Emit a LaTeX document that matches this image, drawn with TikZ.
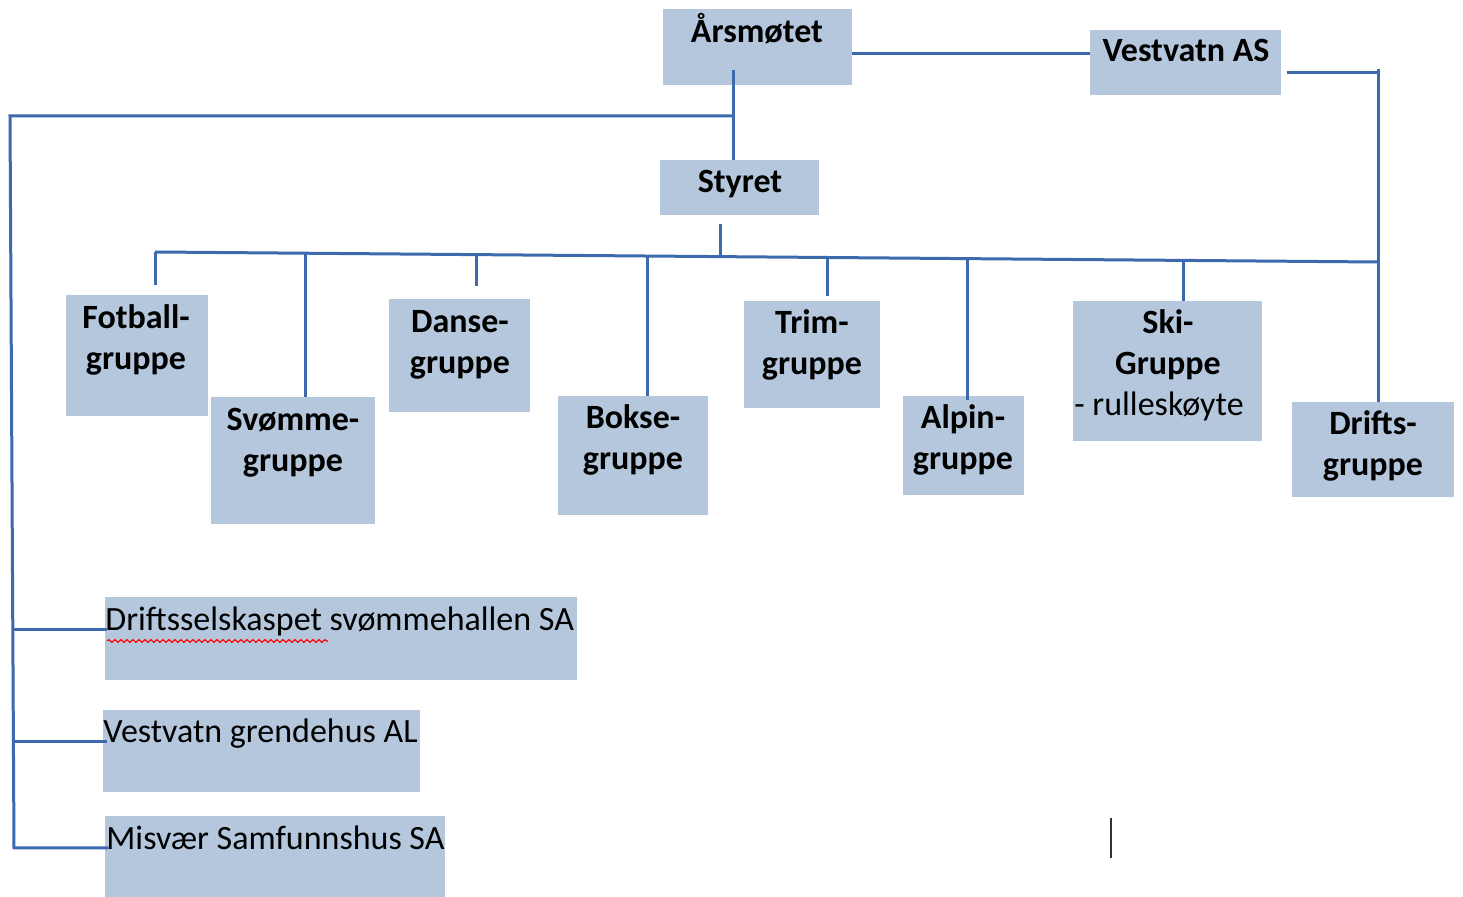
\documentclass[tikz,border=0pt]{standalone}
\usepackage{fontspec}
\setmainfont{Carlito}
\usetikzlibrary{fit,decorations.pathmorphing}
\definecolor{boxfill}{HTML}{B4C7DC}
\definecolor{linec}{HTML}{3C6AAC}
\tikzset{
  box/.style={fill=boxfill, draw=none, inner sep=0pt},
  lbl/.style={font=\fontsize{17}{20.5}\selectfont\bfseries, align=center, inner sep=0pt, anchor=base},
  plain/.style={font=\fontsize{17}{20.5}\selectfont, inner sep=0pt, anchor=base west},
  conn/.style={draw=linec, line width=1.5pt}
}
\begin{document}
\begin{tikzpicture}[x=0.5pt,y=-0.5pt]
\useasboundingbox (0,0) rectangle (1463,897);
% boxes
\node[box, fit={(663,9)(852,85)}] (ars) {};
\node[box, fit={(1090,30)(1281,95)}] (vas) {};
\node[box, fit={(660,160)(819,215)}] (sty) {};
\node[box, fit={(66,295)(208,416)}] (fot) {};
\node[box, fit={(211,397)(375,524)}] (svo) {};
\node[box, fit={(389,299)(530,412)}] (dan) {};
\node[box, fit={(558,396)(708,515)}] (bok) {};
\node[box, fit={(744,301)(880,408)}] (tri) {};
\node[box, fit={(903,396)(1024,495)}] (alp) {};
\node[box, fit={(1073,301)(1262,441)}] (ski) {};
\node[box, fit={(1292,402)(1454,497)}] (dri) {};
\node[box, fit={(105,597)(577,680)}] (dss) {};
\node[box, fit={(103,710)(420,792)}] (vga) {};
\node[box, fit={(105,816)(445,897)}] (mis) {};
% texts (anchor = baseline of the last line)
\node[lbl] (arsT) at (757,43) {Årsmøtet};
\node[lbl] (vasT) at (1186,62) {Vestvatn AS};
\node[lbl] (styT) at (740,193) {Styret};
\node[lbl] (fotT) at (136,370) {Fotball-\\gruppe};
\node[lbl] (svoT) at (293,472) {Svømme-\\gruppe};
\node[lbl] (danT) at (460,374) {Danse-\\gruppe};
\node[lbl] (bokT) at (633,470) {Bokse-\\gruppe};
\node[lbl] (triT) at (812,375) {Trim-\\gruppe};
\node[lbl] (alpT) at (963,470) {Alpin-\\gruppe};
\node[lbl] (skiT) at (1168,375) {Ski-\\Gruppe};
\node[plain] (skiR) at (1074,416) {- rulleskøyte};
\node[lbl] (driT) at (1373,476) {Drifts-\\gruppe};
\node[plain] (dssT) at (105,631) {Driftsselskaspet svømmehallen SA};
\node[plain] (vgaT) at (103,743) {Vestvatn grendehus AL};
\node[plain] (misT) at (106,849) {Misvær Samfunnshus SA};
% spelling underline
\draw[red, line width=0.6pt, decorate, decoration={snake, amplitude=0.7pt, segment length=3pt}] (107,641) -- (328,641);
% coordinates
\coordinate (ax) at (733,70);
\coordinate (lb1) at (733,116);
\coordinate (lt) at (10,116);
\coordinate (lbot) at (14,848);
\coordinate (l1) at (12.8,630);
\coordinate (l2) at (13.4,742);
\coordinate (busL) at (155,252);
\coordinate (busR) at (1378,262);
\coordinate (bSty) at (720,256.6);
\coordinate (bSvo) at (305,253.2);
\coordinate (bDan) at (476,254.6);
\coordinate (bBok) at (647,256.0);
\coordinate (bTri) at (827,257.5);
\coordinate (bAlp) at (967,258.6);
\coordinate (bSki) at (1183,260.4);
\coordinate (vr) at (1378,69);
% connectors
\draw[conn] (ars.east |- 0,54) -- (vas.west |- 0,54);
\draw[conn] ([xshift=3pt]vas.east |- 0,73) -- (1378,73);
\draw[conn] (vr) -- (dri.north -| vr);
\draw[conn] (ax) -- (sty.north -| ax);
\draw[conn] (lb1) -- (lt) -- (lbot) -- ([xshift=2pt]mis.west |- lbot);
\draw[conn] (l1) -- ([xshift=1pt]dss.west |- l1);
\draw[conn] (l2) -- ([xshift=2pt]vga.west |- l2);
\draw[conn] ([yshift=-4.5pt]sty.south -| bSty) -- (bSty);
\draw[conn] (busL) -- (busR);
\draw[conn] (busL) -- ([yshift=5pt]fot.north -| busL);
\draw[conn] (bSvo) -- (svo.north -| bSvo);
\draw[conn] (bDan) -- ([yshift=6.5pt]dan.north -| bDan);
\draw[conn] (bBok) -- (bok.north -| bBok);
\draw[conn] (bTri) -- ([yshift=2.5pt]tri.north -| bTri);
\draw[conn] (bAlp) -- ([yshift=-2pt]alp.north -| bAlp);
\draw[conn] (bSki) -- (ski.north -| bSki);
% text cursor
\draw[black!80, line width=1pt] (1111,818) -- (1111,858);
\end{tikzpicture}
\end{document}
